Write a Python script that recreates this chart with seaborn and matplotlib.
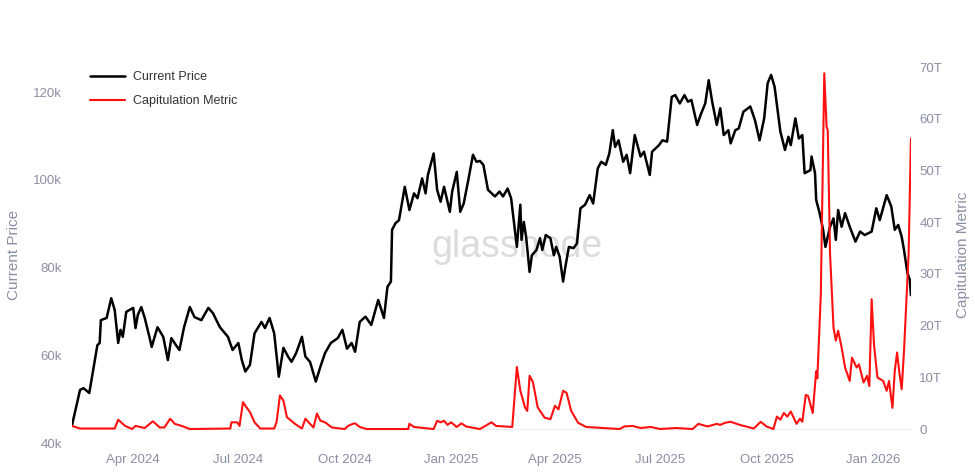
import matplotlib
matplotlib.use("Agg")

import pandas as pd
import seaborn as sns
import matplotlib.pyplot as plt
import matplotlib.dates as mdates
from matplotlib.ticker import FuncFormatter, MultipleLocator

# Current price (thousands USD)
price_dates = [
    "2024-02-08", "2024-02-15", "2024-02-18", "2024-02-23", "2024-03-01", "2024-03-03", "2024-03-04",
    "2024-03-09", "2024-03-13", "2024-03-16", "2024-03-19", "2024-03-21", "2024-03-23", "2024-03-26",
    "2024-04-01", "2024-04-03", "2024-04-05", "2024-04-08", "2024-04-11", "2024-04-15", "2024-04-17",
    "2024-04-22", "2024-04-27", "2024-05-01", "2024-05-04", "2024-05-08", "2024-05-11", "2024-05-15",
    "2024-05-20", "2024-05-24", "2024-05-30", "2024-06-05", "2024-06-09", "2024-06-15", "2024-06-22",
    "2024-06-26", "2024-07-01", "2024-07-04", "2024-07-07", "2024-07-11", "2024-07-15", "2024-07-21",
    "2024-07-24", "2024-07-28", "2024-08-01", "2024-08-05", "2024-08-09", "2024-08-13", "2024-08-16",
    "2024-08-20", "2024-08-25", "2024-08-28", "2024-09-01", "2024-09-06", "2024-09-10", "2024-09-14",
    "2024-09-19", "2024-09-25", "2024-09-29", "2024-10-03", "2024-10-07", "2024-10-10", "2024-10-14",
    "2024-10-19", "2024-10-24", "2024-10-30", "2024-11-04", "2024-11-07", "2024-11-10", "2024-11-11",
    "2024-11-14", "2024-11-17", "2024-11-22", "2024-11-26", "2024-11-30", "2024-12-03", "2024-12-07",
    "2024-12-10", "2024-12-12", "2024-12-17", "2024-12-20", "2024-12-23", "2024-12-26", "2024-12-31",
    "2025-01-02", "2025-01-06", "2025-01-09", "2025-01-12", "2025-01-16", "2025-01-20", "2025-01-23",
    "2025-01-26", "2025-01-29", "2025-02-02", "2025-02-08", "2025-02-12", "2025-02-15", "2025-02-19",
    "2025-02-22", "2025-02-27", "2025-03-02", "2025-03-03", "2025-03-05", "2025-03-07", "2025-03-10",
    "2025-03-12", "2025-03-16", "2025-03-19", "2025-03-21", "2025-03-24", "2025-03-28", "2025-03-31",
    "2025-04-02", "2025-04-05", "2025-04-08", "2025-04-10", "2025-04-13", "2025-04-17", "2025-04-20",
    "2025-04-23", "2025-04-27", "2025-05-01", "2025-05-04", "2025-05-08", "2025-05-11", "2025-05-15",
    "2025-05-18", "2025-05-21", "2025-05-23", "2025-05-26", "2025-05-30", "2025-06-02", "2025-06-05",
    "2025-06-09", "2025-06-14", "2025-06-17", "2025-06-22", "2025-06-24", "2025-06-30", "2025-07-03",
    "2025-07-07", "2025-07-11", "2025-07-14", "2025-07-18", "2025-07-22", "2025-07-25", "2025-07-28",
    "2025-08-02", "2025-08-05", "2025-08-09", "2025-08-12", "2025-08-15", "2025-08-19", "2025-08-22",
    "2025-08-25", "2025-08-29", "2025-08-31", "2025-09-04", "2025-09-07", "2025-09-11", "2025-09-17",
    "2025-09-21", "2025-09-25", "2025-09-29", "2025-10-02", "2025-10-05", "2025-10-08", "2025-10-11",
    "2025-10-13", "2025-10-17", "2025-10-20", "2025-10-22", "2025-10-26", "2025-10-29", "2025-11-01",
    "2025-11-03", "2025-11-08", "2025-11-09", "2025-11-12", "2025-11-13", "2025-11-16", "2025-11-19",
    "2025-11-21", "2025-11-25", "2025-11-28", "2025-11-30", "2025-12-02", "2025-12-05", "2025-12-08",
    "2025-12-12", "2025-12-17", "2025-12-21", "2025-12-25", "2025-12-31", "2026-01-04", "2026-01-07",
    "2026-01-13", "2026-01-17", "2026-01-20", "2026-01-23", "2026-01-26", "2026-01-28", "2026-01-31",
    "2026-02-02", "2026-02-03",
]
price_k = [
    44.0, 52.1, 52.5, 51.4, 62.3, 62.8, 68.0,
    68.5, 73.0, 70.3, 62.8, 65.8, 64.2, 69.9,
    70.8, 66.2, 69.2, 71.0, 68.5, 64.2, 61.9,
    66.4, 64.2, 58.9, 63.9, 62.3, 61.2, 66.4,
    71.0, 68.7, 68.0, 70.8, 69.6, 66.4, 64.2,
    61.2, 62.8, 58.9, 56.3, 57.8, 65.0, 67.6,
    66.2, 68.5, 65.0, 55.1, 61.7, 59.7, 58.5,
    60.5, 64.2, 59.7, 58.5, 54.0, 57.4, 60.5,
    62.8, 63.9, 65.8, 61.5, 62.8, 60.8, 67.6,
    68.8, 66.9, 72.6, 68.5, 75.6, 76.8, 88.6,
    90.1, 90.8, 98.4, 93.1, 96.9, 95.8, 100.3,
    96.9, 101.1, 106.0, 97.7, 95.0, 98.4, 92.7,
    97.3, 101.8, 92.7, 94.6, 100.0, 105.7, 104.1,
    104.3, 103.4, 97.7, 96.2, 97.3, 96.2, 98.0,
    95.8, 84.7, 94.3, 86.3, 90.4, 87.0, 79.0,
    82.8, 84.0, 86.7, 84.0, 87.4, 86.7, 82.8,
    84.7, 82.5, 76.8, 80.2, 84.7, 84.4, 85.5,
    93.5, 94.3, 96.5, 94.6, 102.6, 104.1, 103.4,
    106.0, 111.3, 107.5, 109.0, 104.1, 105.7, 101.5,
    110.2, 105.3, 106.4, 101.1, 106.4, 107.9, 109.0,
    108.7, 118.9, 119.3, 117.4, 119.3, 117.8, 118.2,
    112.5, 114.8, 117.4, 122.7, 117.8, 112.5, 116.3,
    110.2, 111.3, 108.3, 111.3, 111.7, 115.5, 116.7,
    113.6, 109.0, 114.0, 122.0, 123.9, 121.2, 115.1,
    111.0, 106.8, 109.8, 107.9, 114.0, 109.4, 110.2,
    101.5, 102.2, 105.3, 101.5, 95.4, 92.4, 88.6,
    84.7, 89.3, 91.2, 86.3, 93.1, 89.3, 92.4,
    89.3, 85.9, 88.2, 87.4, 88.2, 93.5, 90.8,
    96.5, 93.9, 88.6, 89.7, 87.0, 84.0, 78.7,
    77.2, 73.7,
]

# Capitulation metric (trillions)
metric_dates = [
    "2024-02-08", "2024-02-15", "2024-03-16", "2024-03-19", "2024-03-25", "2024-03-31", "2024-04-03",
    "2024-04-11", "2024-04-18", "2024-04-24", "2024-04-28", "2024-05-03", "2024-05-07", "2024-05-13",
    "2024-05-20", "2024-06-24", "2024-06-25", "2024-06-30", "2024-07-02", "2024-07-05", "2024-07-08",
    "2024-07-11", "2024-07-15", "2024-07-20", "2024-08-01", "2024-08-03", "2024-08-06", "2024-08-09",
    "2024-08-12", "2024-08-19", "2024-08-25", "2024-08-28", "2024-09-01", "2024-09-04", "2024-09-07",
    "2024-09-10", "2024-09-14", "2024-09-20", "2024-10-01", "2024-10-04", "2024-10-08", "2024-10-10",
    "2024-10-14", "2024-10-20", "2024-11-25", "2024-11-26", "2024-11-30", "2024-12-17", "2024-12-20",
    "2024-12-23", "2024-12-26", "2024-12-29", "2025-01-01", "2025-01-06", "2025-01-10", "2025-01-14",
    "2025-01-26", "2025-02-05", "2025-02-09", "2025-02-23", "2025-02-27", "2025-03-02", "2025-03-06",
    "2025-03-08", "2025-03-10", "2025-03-13", "2025-03-17", "2025-03-23", "2025-03-28", "2025-04-01",
    "2025-04-04", "2025-04-08", "2025-04-11", "2025-04-15", "2025-04-21", "2025-04-28", "2025-05-27",
    "2025-05-31", "2025-06-07", "2025-06-14", "2025-06-23", "2025-07-01", "2025-07-15", "2025-07-29",
    "2025-08-03", "2025-08-11", "2025-08-19", "2025-08-22", "2025-08-26", "2025-08-31", "2025-09-08",
    "2025-09-20", "2025-09-26", "2025-10-01", "2025-10-07", "2025-10-10", "2025-10-13", "2025-10-16",
    "2025-10-19", "2025-10-22", "2025-10-27", "2025-10-30", "2025-11-01", "2025-11-04", "2025-11-06",
    "2025-11-10", "2025-11-13", "2025-11-14", "2025-11-17", "2025-11-20", "2025-11-22", "2025-11-23",
    "2025-11-25", "2025-11-28", "2025-11-30", "2025-12-02", "2025-12-05", "2025-12-08", "2025-12-12",
    "2025-12-14", "2025-12-18", "2025-12-20", "2025-12-24", "2025-12-27", "2025-12-29", "2025-12-31",
    "2026-01-02", "2026-01-05", "2026-01-10", "2026-01-13", "2026-01-15", "2026-01-18", "2026-01-20",
    "2026-01-22", "2026-01-24", "2026-01-26", "2026-01-28", "2026-02-01", "2026-02-03",
]
metric_t = [
    0.6, 0.1, 0.1, 1.8, 0.6, 0.0, 0.6,
    0.2, 1.5, 0.3, 0.3, 2.0, 1.0, 0.6,
    0.0, 0.1, 1.3, 1.3, 0.6, 5.2, 4.2,
    3.3, 1.3, 0.1, 0.1, 1.3, 6.5, 5.5,
    2.3, 1.0, 0.1, 2.0, 1.0, 0.3, 3.0,
    1.6, 1.3, 0.3, 0.0, 0.6, 1.0, 1.1,
    0.4, 0.0, 0.0, 1.0, 0.4, 0.0, 1.6,
    1.3, 1.6, 0.8, 1.3, 0.4, 1.1, 0.5,
    0.0, 1.3, 0.6, 0.4, 12.0, 7.4, 4.2,
    3.5, 10.3, 9.0, 4.2, 2.2, 1.9, 4.5,
    3.8, 7.4, 7.0, 3.5, 1.2, 0.4, 0.0,
    0.5, 0.6, 0.2, 0.4, 0.0, 0.2, 0.0,
    1.0, 0.5, 1.0, 0.8, 1.2, 1.4, 0.8,
    0.1, 1.4, 0.5, 0.0, 2.4, 1.8, 3.1,
    2.4, 3.4, 1.0, 2.0, 1.4, 6.6, 6.4,
    3.1, 11.2, 9.8, 26.0, 68.8, 58.4, 57.8,
    33.9, 19.6, 17.1, 19.0, 15.8, 11.9, 9.3,
    13.8, 11.9, 12.5, 9.0, 10.3, 8.3, 25.1,
    16.4, 9.95, 9.3, 7.4, 9.3, 4.1, 11.2,
    14.8, 10.9, 7.7, 15.1, 33.9, 56.2,
]

price_df = pd.DataFrame({"date": pd.to_datetime(price_dates), "price": price_k})
metric_df = pd.DataFrame({"date": pd.to_datetime(metric_dates), "metric": metric_t})

sns.set_style("white")
plt.rcParams["font.family"] = ["Liberation Sans", "DejaVu Sans"]

grey = "#8a8ea3"

fig = plt.figure(figsize=(9.75, 4.74), dpi=100)
ax = fig.add_axes([0.0738, 0.0654, 0.8605, 0.7932])
ax2 = ax.twinx()

sns.lineplot(data=price_df, x="date", y="price", ax=ax, color="black", linewidth=1.8,
             label="Current Price", legend=False)
sns.lineplot(data=metric_df, x="date", y="metric", ax=ax2, color="#ff1010", linewidth=1.5,
             label="Capitulation Metric", legend=False)

ax2.axhline(0, color="#ececec", linewidth=0.8, zorder=0)

ax.set_ylim(40, 125.7)
ax2.set_ylim(-2.7, 70)
ax.set_xlim(price_df["date"].min(), price_df["date"].max())

ax.yaxis.set_major_locator(MultipleLocator(20))
ax.yaxis.set_major_formatter(FuncFormatter(lambda v, p: f"{v:.0f}k"))
ax2.yaxis.set_major_locator(MultipleLocator(10))
ax2.yaxis.set_major_formatter(FuncFormatter(lambda v, p: "0" if v == 0 else f"{v:.0f}T"))

ax.xaxis.set_major_locator(mdates.MonthLocator(bymonth=[1, 4, 7, 10]))
ax.xaxis.set_major_formatter(mdates.DateFormatter("%b %Y"))

for a in (ax, ax2):
    for s in a.spines.values():
        s.set_visible(False)
    a.tick_params(axis="both", length=0, colors=grey, labelsize=9.5)
    a.grid(False)
ax.tick_params(axis="y", pad=7)
ax2.tick_params(axis="y", pad=6)
ax.tick_params(axis="x", pad=8)

ax.set_xlabel("")
ax.set_ylabel("Current Price", color=grey, fontsize=11, labelpad=9)
ax2.set_ylabel("Capitulation Metric", color=grey, fontsize=11, labelpad=10)

ax.text(0.53, 0.52, "glassnode", transform=ax.transAxes, ha="center", va="center",
        fontsize=27, color="#dcdcdc", zorder=1)

handles = ax.get_lines()[:1] + ax2.get_lines()[:1]
fig.legend(handles, ["Current Price", "Capitulation Metric"], loc="upper left",
           bbox_to_anchor=(0.086, 0.863), frameon=False, fontsize=9,
           handlelength=2.8, handletextpad=0.6, labelspacing=0.95,
           borderpad=0, labelcolor="#333333")

fig.savefig("out.png", dpi=100)
